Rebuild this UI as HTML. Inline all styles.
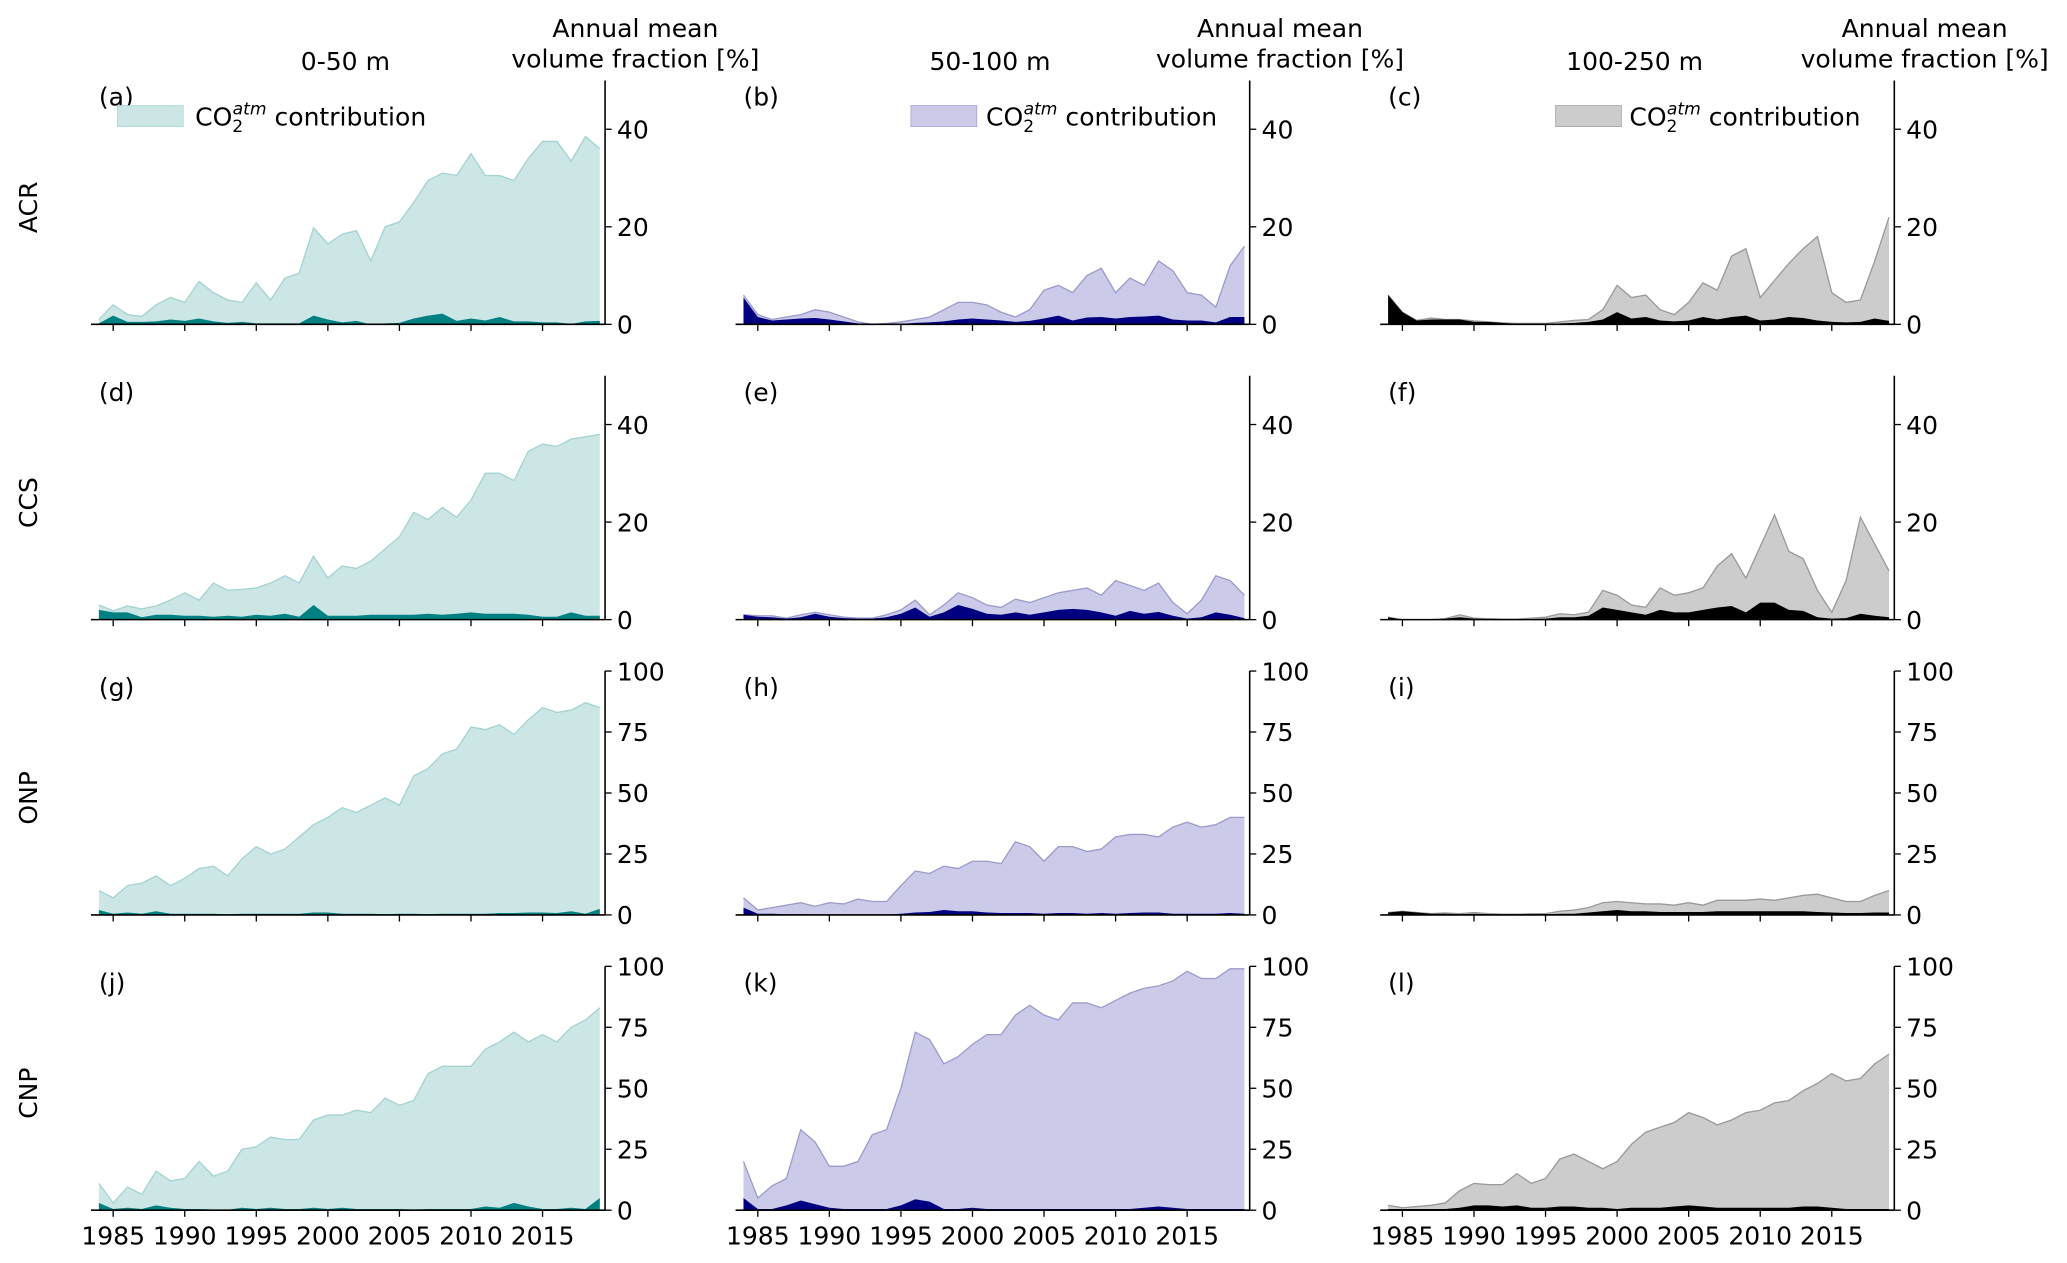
<!DOCTYPE html>
<html><head><meta charset="utf-8"><style>
html,body{margin:0;padding:0;background:#fff;}
svg{display:block;font-family:"DejaVu Sans","Liberation Sans",sans-serif;}
</style></head><body>
<svg id="fig" width="2067" height="1263" viewBox="0 0 1568 958" xmlns="http://www.w3.org/2000/svg"></svg>
<script>
const years = [];
for (let y = 1984; y <= 2019; y++) years.push(y);
const xTickYears = [1985,1990,1995,2000,2005,2010,2015];
const ticks50 = [0,20,40];
const ticks100 = [0,25,50,75,100];
const rowNames = ["ACR","CCS","ONP","CNP"];
const depthTitles = ["0-50 m","50-100 m","100-250 m"];
const panelLetters = ["a","b","c","d","e","f","g","h","i","j","k","l"];

const totalA = [1,4,2,1.6,4,5.5,4.5,8.8,6.5,5,4.5,8.5,5,9.5,10.5,19.8,16.5,18.5,19.2,13,20,21,25,29.5,31,30.5,35,30.5,30.5,29.5,34,37.5,37.5,33.5,38.5,36];
const darkA = [0.2,1.8,0.5,0.5,0.6,1,0.7,1.2,0.6,0.3,0.5,0.2,0.2,0.2,0.2,1.8,1,0.4,0.7,0,0.2,0.3,1.2,1.8,2.2,0.7,1.2,0.8,1.5,0.6,0.6,0.4,0.4,0.1,0.6,0.7];
const totalB = [6,2,1,1.5,2,3,2.5,1.5,0.5,0,0.2,0.5,1,1.5,3,4.5,4.5,4,2.5,1.5,3,7,8,6.5,10,11.5,6.5,9.5,8,13,11,6.5,6,3.5,12,16];
const darkB = [5.5,1.5,0.8,1,1.2,1.3,1,0.6,0.2,0,0,0.1,0.3,0.4,0.6,1,1.2,1,0.8,0.5,0.7,1.2,1.8,0.8,1.4,1.5,1.2,1.5,1.6,1.8,1,0.8,0.8,0.4,1.5,1.5];
const totalC = [6,2.5,0.8,1.3,1,1,0.7,0.5,0.3,0.2,0.2,0.2,0.5,0.8,1,3,8,5.5,6,3,2,4.5,8.5,7,14,15.5,5.5,9,12.5,15.5,18,6.5,4.5,5,13,22];
const darkC = [6,2.5,0.8,1,1,1,0.5,0.5,0.3,0.1,0.1,0.1,0.2,0.3,0.5,1,2.5,1.2,1.5,0.8,0.6,0.8,1.5,1,1.5,1.8,0.8,1,1.5,1.3,0.8,0.5,0.4,0.5,1.2,0.7];
const totalD = [3,1.8,2.8,2.2,2.8,4,5.5,4,7.5,6,6.2,6.5,7.5,9,7.5,13,8.5,11,10.5,12,14.5,17,22,20.5,23,21,24.5,30,30,28.5,34.5,36,35.5,37,37.5,38];
const darkD = [2,1.5,1.5,0.5,1,1,0.8,0.8,0.6,0.8,0.6,1,0.8,1.2,0.6,3,0.8,0.8,0.8,1,1,1,1,1.2,1,1.2,1.5,1.2,1.2,1.2,1,0.6,0.6,1.5,0.8,0.8];
const totalE = [1,0.8,0.8,0.3,1,1.5,1,0.5,0.3,0.3,1,2,4,1,3,5.5,4.5,3,2.5,4.2,3.5,4.5,5.5,6,6.5,5,8,7,6,7.5,3.5,1.2,4,9,8,5];
const darkE = [1,0.6,0.5,0.2,0.5,1.2,0.6,0.3,0.2,0.2,0.5,1.2,2.5,0.6,1.5,3,2.2,1.2,1,1.5,1,1.5,2,2.2,2,1.5,0.8,1.8,1.2,1.6,0.8,0.2,0.5,1.5,1,0.3];
const totalF = [0.5,0,0,0,0.2,1,0.3,0.2,0.1,0.1,0.3,0.5,1.2,1,1.5,6,5,3,2.5,6.5,5,5.5,6.5,11,13.5,8.5,15,21.5,14,12.5,6,1.5,8,21,15.5,10];
const darkF = [0.5,0,0,0,0.2,0.5,0.2,0.1,0.1,0.1,0.1,0.2,0.5,0.5,0.8,2.5,2,1.5,1,2,1.5,1.5,2,2.5,2.8,1.5,3.5,3.5,2,1.8,0.5,0.2,0.3,1.2,0.8,0.5];
const totalG = [10,7,12,13,16,12,15,19,20,16,23,28,25,27,32,37,40,44,42,45,48,45,57,60,66,68,77,76,78,74,80,85,83,84,87,85];
const darkG = [2,0.5,1,0.5,1.5,0.5,0.5,0.5,0.5,0.2,0.5,0.5,0.5,0.5,0.5,1,1,0.5,0.5,0.5,0.3,0.5,0.5,0.3,0.5,0.5,0.5,0.5,0.8,0.8,1,1,0.8,1.5,0.5,2.5];
const totalH = [7,2,3,4,5,3.5,5,4.5,6.5,5.5,5.5,12,18,17,20,19,22,22,21,30,28,22,28,28,26,27,32,33,33,32,36,38,36,37,40,40];
const darkH = [3,0.5,0.5,0.3,0.3,0.2,0.2,0.2,0.2,0.2,0.2,0.5,1,1.2,2,1.5,1.5,1,0.8,0.8,0.8,0.5,0.8,0.8,0.5,0.8,0.5,0.8,1,1,0.5,0.5,0.5,0.5,0.8,0.5];
const totalI = [1,1.5,1,0.5,0.8,0.5,1,0.5,0.3,0.3,0.5,0.5,1.5,2,3,5,5.5,5,4.5,4.5,4,5,4,6,6,6,6.5,6,7,8,8.5,7,5.5,5.5,8,10];
const darkI = [1,1.5,1,0.5,0.5,0.3,0.5,0.3,0.2,0.2,0.2,0.3,0.5,0.5,1,1.5,2,1.5,1.5,1.2,1.2,1.2,1.2,1.5,1.5,1.5,1.5,1.5,1.5,1.5,1.2,1,0.8,0.8,1,1];
const totalJ = [11,3,9.5,6.5,16,12,13,20,14,16,25,26,30,29,29,37,39,39,41,40,46,43,45,56,59,59,59,66,69,73,69,72,69,75,78,83];
const darkJ = [3,0.5,1,0.5,2,1,0.5,0.5,0.3,0.2,1,0.5,1,0.5,0.5,1,0.5,1,0.5,0.5,0.5,0.5,0.3,0.5,0.5,0.5,0.5,1.5,1,3,1.5,0.5,0.5,1,0.5,5];
const totalK = [20,5,10,13,33,28,18,18,20,31,33,50,73,70,60,63,68,72,72,80,84,80,78,85,85,83,86,89,91,92,94,98,95,95,99,99];
const darkK = [5,0.5,0.5,2,4,2.5,1,0.5,0.5,0.5,0.5,2,4.5,3.5,0.5,0.5,1,0.5,0.5,0.5,0.5,0.5,0.5,0.5,0.5,0.5,0.5,0.5,1,1.5,1,0.5,0.5,0.5,0.5,0.5];
const totalL = [2,1,1.5,2,3,8,11,10.5,10.5,15,11,13,21,23,20,17,20,27,32,34,36,40,38,35,37,40,41,44,45,49,52,56,53,54,60,64];
const darkL = [0.5,0.5,0.5,0.5,0.5,1,2,2,1.5,2,1,1,1.5,1.5,1,1,0.5,1,1,1,1.5,2,1.5,1,1,1,1,1,1,1.5,1.5,1,0.5,0.5,0.5,0.5];

const totals = [totalA,totalB,totalC,totalD,totalE,totalF,totalG,totalH,totalI,totalJ,totalK,totalL];
const darks = [darkA,darkB,darkC,darkD,darkE,darkF,darkG,darkH,darkI,darkJ,darkK,darkL];

const colStyles = [
  {light:"#cce6e6", edge:"#a3d3d3", dark:"#008080"},
  {light:"#cbcbe9", edge:"#9b9bcb", dark:"#000080"},
  {light:"#cccccc", edge:"#999999", dark:"#000000"}
];

const NS = "http://www.w3.org/2000/svg";
const svg = document.getElementById("fig");
function mk(tag, attrs, parent) {
  const e = document.createElementNS(NS, tag);
  for (const k in attrs) e.setAttribute(k, attrs[k]);
  (parent || svg).appendChild(e);
  return e;
}
const FS = 19;

const colOffset = 489;
const rowTops = [61, 285, 509, 733];
const plotH = 185;
const x1984 = 75, x2019 = 455, spineX = 459, axisLeft = 69;

for (let c = 0; c < 3; c++) {
  const off = c * colOffset;
  const t = mk("text", {x: 262 + off, y: 53, "font-size": FS, "text-anchor": "middle"});
  
  
  t.textContent = depthTitles[c];
  const u1 = mk("text", {x: 482 + off, y: 28, "font-size": FS, "text-anchor": "middle"});
  
  
  u1.textContent = "Annual mean";
  const u2 = mk("text", {x: 482 + off, y: 51, "font-size": FS, "text-anchor": "middle"});
  
  
  u2.textContent = "volume fraction [%]";
}

for (let r = 0; r < 4; r++) {
  const top = rowTops[r], bot = top + plotH;
  const rl = mk("text", {x: 0, y: 0, "font-size": FS, "text-anchor": "middle", transform: "translate(28," + (top + plotH*0.52) + ") rotate(-90)"});
  
  
  rl.textContent = rowNames[r];
  const ymax = r < 2 ? 50 : 100;
  const yt = r < 2 ? ticks50 : ticks100;
  for (let c = 0; c < 3; c++) {
    const i = r*3 + c, off = c*colOffset, st = colStyles[c];
    const g = mk("g", {});
    
    
    const xs = yr => off + x1984 + (yr - 1984) * (x2019 - x1984) / 35;
    const ys = v => bot - v / ymax * plotH;
    const area = (vals) => {
      let d = "M" + xs(years[0]) + "," + ys(0);
      years.forEach((yr, k) => { d += " L" + xs(yr).toFixed(2) + "," + ys(vals[k]).toFixed(2); });
      d += " L" + xs(years[years.length-1]) + "," + ys(0) + " Z";
      return d;
    };
    const line = (vals) => years.map((yr,k) => (k?"L":"M") + xs(yr).toFixed(2) + "," + ys(vals[k]).toFixed(2)).join(" ");
    const a1 = mk("path", {d: area(totals[i]), fill: st.light}, g);
    
    
    const l1 = mk("path", {d: line(totals[i]), fill: "none", stroke: st.edge, "stroke-width": 1}, g);
    
    
    const a2 = mk("path", {d: area(darks[i]), fill: st.dark}, g);
    
    
    const xa = mk("line", {x1: off + axisLeft, x2: off + spineX, y1: bot, y2: bot, stroke: "#000", "stroke-width": 1.2}, g);
    
    
    const ya = mk("line", {x1: off + spineX, x2: off + spineX, y1: top, y2: bot, stroke: "#000", "stroke-width": 1.2}, g);
    
    
    xTickYears.forEach(yr => {
      const tk = mk("line", {x1: xs(yr), x2: xs(yr), y1: bot, y2: bot + 5, stroke: "#000", "stroke-width": 1}, g);
      
      
      if (r === 3) {
        const tl = mk("text", {x: xs(yr), y: bot + 26, "font-size": FS, "text-anchor": "middle"}, g);
        
        
        tl.textContent = yr;
      }
    });
    yt.forEach(v => {
      const tk = mk("line", {x1: off + spineX, x2: off + spineX + 5, y1: ys(v), y2: ys(v), stroke: "#000", "stroke-width": 1}, g);
      
      
      const tl = mk("text", {x: off + spineX + 9, y: ys(v) + 7, "font-size": FS}, g);
      
      
      tl.textContent = v;
    });
    const pl = mk("text", {x: off + 75, y: top + 19, "font-size": FS}, g);
    
    
    pl.textContent = "(" + panelLetters[i] + ")";
    if (r === 0) {
      const lx = [89, 691, 1180][c], tx = [148, 748, 1236][c];
      const lg = mk("g", {}, g);
      
      
      const p = mk("rect", {x: lx, y: 80, width: 50, height: 16, fill: st.light, stroke: st.edge, "stroke-width": 0.5}, lg);
      
      
      const lt = mk("text", {x: tx, y: 95, "font-size": FS}, lg);
      
      
      const s1 = mk("tspan", {}, lt); s1.textContent = "CO";
      const s2 = mk("tspan", {dy: 5, "font-size": 13}, lt); s2.textContent = "2";
      const s3 = mk("tspan", {dx: -8, dy: -13, "font-size": 13, "font-style": "italic"}, lt); s3.textContent = "atm";
      const s4 = mk("tspan", {dy: 8}, lt); s4.textContent = " contribution";
    }
  }
}
</script>
</body></html>
